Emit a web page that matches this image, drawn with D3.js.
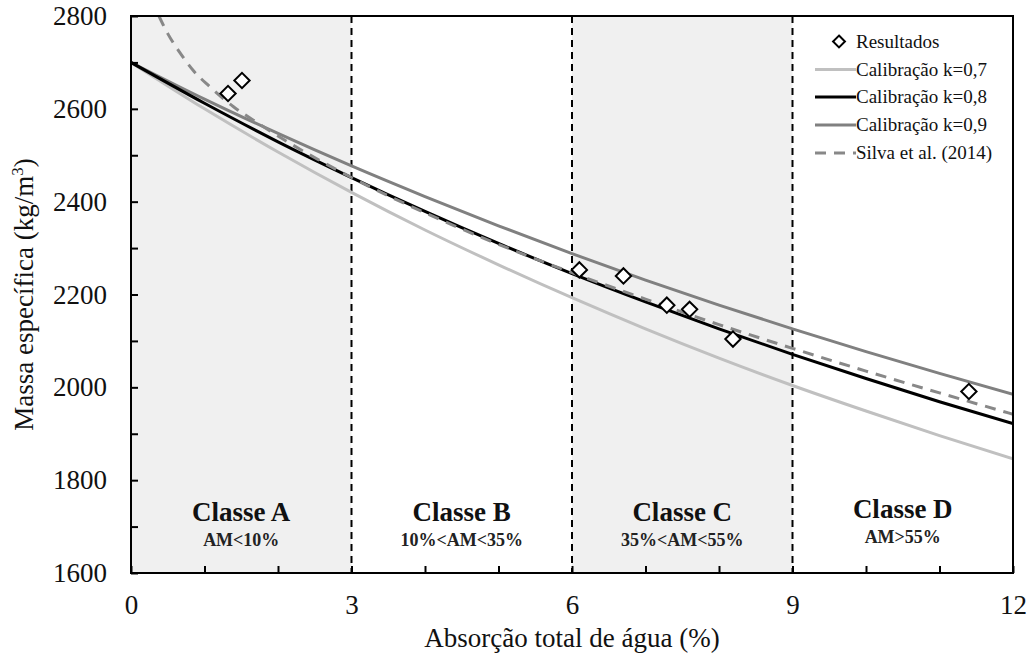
<!DOCTYPE html>
<html><head><meta charset="utf-8">
<script src="https://cdn.jsdelivr.net/npm/d3@7"></script>
<style>
html,body{margin:0;padding:0;background:#fff;}
</style></head>
<body><svg id="c" width="1032" height="658"></svg>
<script>
// ---- data ----
const xTicks = [0, 3, 6, 9, 12];
const yTicks = [1600, 1800, 2000, 2200, 2400, 2600, 2800];
const gridX = [0,1,2,3,4,5,6,7,8,9,10,11,12];
const calib07 = [2700,2600,2507,2420,2339,2264,2193,2126,2063,2004,1949,1896,1846];
const calib08 = [2700,2612,2529,2452,2379,2310,2245,2184,2126,2071,2019,1969,1922];
const calib09 = [2700,2621,2547,2477,2411,2348,2288,2231,2177,2126,2077,2030,1985];
const silvaX = [0.38,0.5,0.67,0.85,1.07,1.39,1.66,2.16,3,4,5,6,7,8,9,10,11,12];
const silvaY = [2800,2762,2720,2682,2648,2605,2576,2526,2452,2376,2308,2247,2190,2135,2084,2035,1988,1942];
const resX = [1.32,1.51,6.10,6.70,7.29,7.60,8.19,11.40];
const resY = [2633,2661,2253,2240,2177,2168,2104,1991];
const classes = [
  {name:"Classe A", sub:"AM<10%", x0:0, x1:3, shade:true},
  {name:"Classe B", sub:"10%<AM<35%", x0:3, x1:6, shade:false},
  {name:"Classe C", sub:"35%<AM<55%", x0:6, x1:9, shade:true},
  {name:"Classe D", sub:"AM>55%", x0:9, x1:12, shade:false}
];
const legendItems = ["Resultados","Calibração k=0,7","Calibração k=0,8","Calibração k=0,9","Silva et al. (2014)"];

// ---- layout ----
const FONT = "'Liberation Serif', 'Times New Roman', 'DejaVu Serif', serif";
const L=131, R=1013, T=16, B=573;
const svg = d3.select("#c");
const x = d3.scaleLinear().domain([0,12]).range([L,R]);
const y = d3.scaleLinear().domain([1600,2800]).range([B,T]);

svg.append("defs").append("clipPath").attr("id","clip")
  .append("rect").attr("x",L).attr("y",T).attr("width",R-L).attr("height",B-T);

// shading
svg.selectAll("rect.shade").data(classes.filter(d=>d.shade)).join("rect")
  .attr("x",d=>x(d.x0)).attr("y",T).attr("width",d=>x(d.x1)-x(d.x0)).attr("height",B-T)
  .attr("fill","#f0f0f0");

// dashed class separators
svg.selectAll("line.sep").data([3,6,9]).join("line")
  .attr("x1",d=>x(d)).attr("x2",d=>x(d)).attr("y1",T).attr("y2",B)
  .attr("stroke","#000").attr("stroke-width",2).attr("stroke-dasharray","7,5");

// class labels
classes.forEach((c,i)=>{
  const cx = x((c.x0+c.x1)/2);
  const off = i===3 ? -3 : 0;
  svg.append("text").attr("x",cx).attr("y",521+off).attr("text-anchor","middle")
    .style("font-family",FONT).attr("font-size",27).attr("font-weight","bold").attr("fill","#111").text(c.name);
  svg.append("text").attr("x",cx).attr("y",546+off).attr("text-anchor","middle")
    .style("font-family",FONT).attr("font-size",18).attr("font-weight","bold").attr("fill","#222").text(c.sub);
});

// curves
const g = svg.append("g").attr("clip-path","url(#clip)");
const line = d3.line().x(d=>x(d[0])).y(d=>y(d[1])).curve(d3.curveMonotoneX);
const series = [
  {v:calib07, color:"#c0c0c0", w:3},
  {v:calib09, color:"#808080", w:3},
  {v:calib08, color:"#000", w:3}
];
series.forEach(s=>{
  g.append("path").attr("d",line(gridX.map((xx,i)=>[xx,s.v[i]])))
    .attr("fill","none").attr("stroke",s.color).attr("stroke-width",s.w);
});
g.append("path").attr("d",line(silvaX.map((xx,i)=>[xx,silvaY[i]])))
  .attr("fill","none").attr("stroke","#888").attr("stroke-width",3).attr("stroke-dasharray","11,8");

// results
const diamond = d3.symbol().type(d3.symbolDiamond2).size(150);
svg.selectAll("path.res").data(resX.map((xx,i)=>[xx,resY[i]])).join("path")
  .attr("transform",d=>`translate(${x(d[0])},${y(d[1])})`)
  .attr("d",diamond).attr("fill","#fff").attr("stroke","#000").attr("stroke-width",2);

// axes
const xAxis = d3.axisBottom(x).tickValues(d3.range(0,13,1)).tickSize(-7).tickFormat(d=>xTicks.includes(d)?d:"").tickPadding(22);
const gx = svg.append("g").attr("transform",`translate(0,${B})`).call(xAxis);
const yAxis = d3.axisLeft(y).tickValues(d3.range(1600,2801,100)).tickSize(-7).tickFormat(d=>yTicks.includes(d)?d:"").tickPadding(24);
const gy = svg.append("g").attr("transform",`translate(${L},0)`).call(yAxis);
[gx,gy].forEach(a=>{
  a.attr("font-family",null);
  a.select(".domain").remove();
  a.selectAll(".tick line").attr("stroke","#000").attr("stroke-width",2);
  a.selectAll(".tick text").attr("font-size",27).attr("fill","#111").style("font-family",FONT);
});
gx.selectAll(".tick text").attr("dy","0.71em");
// frame
svg.append("rect").attr("x",L).attr("y",T).attr("width",R-L).attr("height",B-T)
  .attr("fill","none").attr("stroke","#000").attr("stroke-width",2);

// axis titles
svg.append("text").attr("x",(L+R)/2).attr("y",647).attr("text-anchor","middle")
  .style("font-family",FONT).attr("font-size",27).attr("fill","#111").text("Absorção total de água (%)");
const yt = svg.append("text").attr("transform",`translate(33,${(T+B)/2}) rotate(-90)`)
  .style("font-family",FONT).attr("text-anchor","middle").attr("font-size",27).attr("fill","#111");
yt.append("tspan").text("Massa específica (kg/m");
yt.append("tspan").attr("font-size",17).attr("dy",-10).text("3");
yt.append("tspan").attr("dy",10).text(")");

// legend
const lg = svg.append("g");
const rowY = [41.5,69.5,97,125,153];
const lstyles = [null,
  {c:"#c0c0c0",d:null},{c:"#000",d:null},{c:"#808080",d:null},{c:"#888",d:"11,8"}];
legendItems.forEach((t,i)=>{
  if(i===0){
    lg.append("path").attr("transform",`translate(839,${rowY[i]})`).attr("d",d3.symbol().type(d3.symbolDiamond2).size(90))
      .attr("fill","#fff").attr("stroke","#000").attr("stroke-width",2);
  } else {
    lg.append("line").attr("x1",815).attr("x2",856).attr("y1",rowY[i]).attr("y2",rowY[i])
      .attr("stroke",lstyles[i].c).attr("stroke-width",3).attr("stroke-dasharray",lstyles[i].d);
  }
  lg.append("text").attr("x",856).attr("y",rowY[i]+6).style("font-family",FONT)
    .attr("font-size",19).attr("fill","#111").text(t);
});
</script></body></html>
